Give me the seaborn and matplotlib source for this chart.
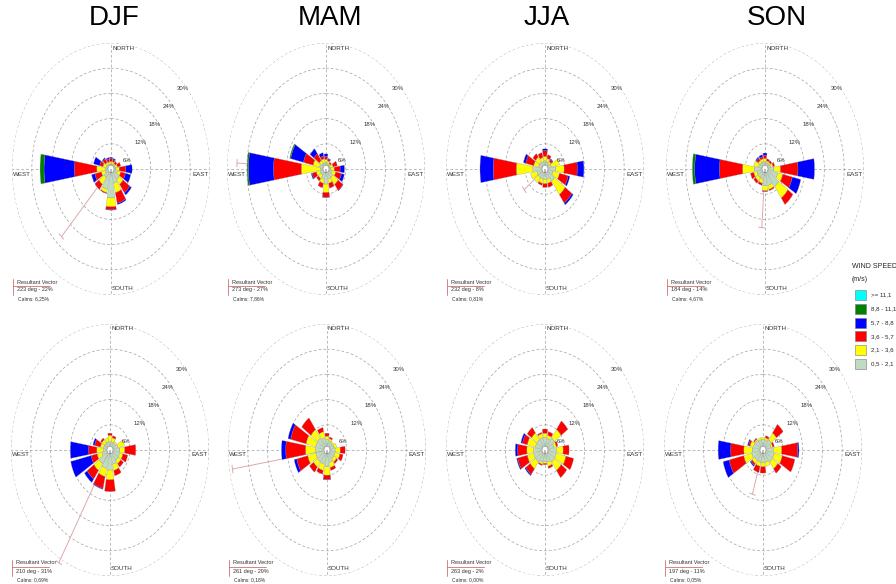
import numpy as np
import matplotlib
matplotlib.use("Agg")
import matplotlib.pyplot as plt
from matplotlib.patches import Rectangle
import seaborn as sns

# ---------------------------------------------------------------------------
# Wind rose data: frequency (%) per direction sector for each speed class
# sector order: N, NNE, NE, ENE, E, ESE, SE, SSE, S, SSW, SW, WSW, W, WNW, NW, NNW
# ---------------------------------------------------------------------------
directions = ["N", "NNE", "NE", "ENE", "E", "ESE", "SE", "SSE",
              "S", "SSW", "SW", "WSW", "W", "WNW", "NW", "NNW"]
seasons = ["DJF", "MAM", "JJA", "SON"]
speed_classes = ["0,5 - 2,1", "2,1 - 3,6", "3,6 - 5,7", "5,7 - 8,8", "8,8 - 11,1", ">= 11,1"]
speed_colors = ["#c0dcc0", "#ffff00", "#ff0000", "#0000ff", "#008000", "#00ffff"]

# upper row
djf1_c1 = [1.2, 1.2, 1.2, 1.3, 1.5, 2.0, 3.0, 3.5, 6.9, 5.0, 2.5, 1.8, 1.8, 1.5, 1.3, 1.2]
djf1_c2 = [0.6, 0.6, 0.4, 0.7, 1.0, 1.0, 1.5, 2.3, 2.1, 0.8, 2.0, 1.2, 2.5, 1.0, 0.7, 0.6]
djf1_c3 = [0.7, 0.5, 0.6, 1.0, 2.0, 1.5, 2.5, 2.6, 0.7, 0.2, 1.5, 2.0, 6.8, 1.0, 1.0, 0.7]
djf1_c4 = [0.3, 0.3, 0.0, 0.0, 1.9, 1.6, 0.6, 0.3, 0.1, 0.0, 0.0, 1.0, 9.2, 1.9, 0.3, 0.3]
djf1_c5 = [0.0, 0.0, 0.0, 0.0, 0.0, 0.0, 0.0, 0.0, 0.0, 0.0, 0.0, 0.0, 1.2, 0.0, 0.0, 0.0]

mam1_c1 = [1.5, 1.3, 1.2, 1.3, 1.5, 1.8, 2.5, 2.5, 3.6, 2.5, 1.8, 1.8, 1.7, 2.0, 1.5, 1.5]
mam1_c2 = [0.8, 0.7, 0.4, 0.9, 1.0, 1.2, 2.0, 1.0, 2.0, 1.0, 1.0, 1.2, 5.8, 2.0, 1.0, 1.0]
mam1_c3 = [0.7, 0.4, 0.4, 1.3, 1.8, 1.8, 1.8, 1.2, 1.1, 1.1, 0.7, 1.3, 8.4, 3.0, 2.0, 0.7]
mam1_c4 = [0.6, 0.2, 0.0, 0.0, 1.3, 0.9, 0.1, 0.0, 0.1, 0.0, 0.0, 0.3, 7.6, 4.0, 1.4, 0.8]
mam1_c5 = [0.0, 0.0, 0.0, 0.0, 0.0, 0.0, 0.0, 0.0, 0.0, 0.0, 0.0, 0.0, 0.4, 0.3, 0.0, 0.0]

jja1_c1 = [2.0, 1.8, 1.5, 2.0, 3.3, 2.5, 3.5, 2.5, 2.5, 2.5, 2.5, 2.5, 3.7, 2.0, 2.0, 1.8]
jja1_c2 = [1.0, 0.8, 0.7, 2.5, 2.5, 2.0, 4.0, 1.0, 1.0, 1.0, 1.5, 2.0, 5.0, 1.5, 1.5, 1.0]
jja1_c3 = [1.4, 0.9, 0.6, 0.0, 4.0, 2.7, 2.5, 1.0, 0.9, 0.5, 0.0, 0.0, 7.0, 2.5, 1.0, 1.2]
jja1_c4 = [0.4, 0.0, 0.2, 0.0, 2.0, 0.5, 0.5, 0.0, 0.0, 0.0, 0.0, 0.0, 4.0, 0.7, 0.0, 0.0]
jja1_c5 = [0.0, 0.0, 0.0, 0.0, 0.0, 0.0, 0.0, 0.0, 0.0, 0.0, 0.0, 0.0, 0.0, 0.0, 0.0, 0.0]

son1_c1 = [1.8, 1.5, 1.5, 1.8, 2.7, 4.0, 5.1, 4.0, 4.0, 2.5, 2.5, 2.5, 3.3, 2.0, 1.8, 1.8]
son1_c2 = [0.7, 0.5, 0.5, 0.7, 2.0, 1.5, 3.4, 1.0, 1.2, 1.0, 1.0, 1.0, 3.5, 1.5, 0.7, 0.7]
son1_c3 = [0.8, 0.5, 0.5, 0.5, 5.3, 3.0, 1.9, 0.3, 0.2, 0.5, 0.7, 1.0, 7.0, 0.0, 0.7, 0.5]
son1_c4 = [0.5, 0.0, 0.0, 0.0, 5.0, 2.6, 0.0, 0.0, 0.0, 0.0, 0.0, 0.0, 7.5, 0.0, 0.3, 0.5]
son1_c5 = [0.0, 0.0, 0.0, 0.0, 0.0, 0.0, 0.0, 0.0, 0.0, 0.0, 0.0, 0.0, 0.7, 0.0, 0.0, 0.0]

# lower row
djf2_c1 = [2.0, 2.0, 2.0, 2.5, 3.0, 3.0, 3.0, 3.5, 4.8, 4.5, 4.0, 2.5, 2.0, 2.0, 2.0, 2.0]
djf2_c2 = [1.5, 1.0, 0.5, 2.0, 1.5, 1.0, 1.0, 1.5, 2.3, 2.0, 2.0, 1.5, 2.0, 1.0, 1.0, 1.0]
djf2_c3 = [0.5, 0.5, 0.0, 0.0, 3.3, 1.5, 1.0, 1.3, 2.8, 2.9, 2.5, 1.9, 2.5, 1.8, 0.5, 0.0]
djf2_c4 = [0.0, 0.0, 0.0, 0.0, 0.0, 0.0, 0.0, 0.0, 0.0, 0.2, 1.0, 6.3, 5.5, 0.5, 0.0, 0.0]
djf2_c5 = [0.0, 0.0, 0.0, 0.0, 0.0, 0.0, 0.0, 0.0, 0.0, 0.0, 0.0, 0.0, 0.0, 0.0, 0.0, 0.0]

mam2_c1 = [2.5, 2.3, 2.0, 2.2, 2.5, 2.5, 2.5, 3.0, 4.0, 3.5, 3.5, 3.5, 3.5, 3.5, 3.5, 3.0]
mam2_c2 = [0.8, 0.5, 0.5, 0.8, 1.5, 1.5, 1.0, 1.3, 2.0, 1.5, 1.5, 2.5, 3.0, 3.0, 2.5, 1.5]
mam2_c3 = [0.7, 0.4, 0.0, 0.0, 1.5, 1.0, 0.5, 0.7, 1.0, 0.9, 1.5, 3.4, 6.0, 4.8, 3.4, 1.0]
mam2_c4 = [0.0, 0.0, 0.0, 0.0, 0.0, 0.0, 0.0, 0.0, 0.1, 0.0, 0.0, 0.8, 1.3, 0.8, 0.0, 0.0]
mam2_c5 = [0.0, 0.0, 0.0, 0.0, 0.0, 0.0, 0.0, 0.0, 0.0, 0.0, 0.0, 0.0, 0.0, 0.0, 0.0, 0.0]

jja2_c1 = [3.0, 2.8, 3.5, 2.8, 3.5, 3.5, 3.5, 3.0, 2.8, 3.0, 3.5, 3.5, 3.5, 3.0, 3.0, 3.0]
jja2_c2 = [1.0, 0.8, 2.5, 0.7, 2.0, 3.0, 2.5, 1.0, 0.4, 0.5, 2.0, 2.0, 2.0, 2.5, 2.0, 1.0]
jja2_c3 = [1.0, 0.9, 2.5, 0.5, 1.8, 2.4, 2.1, 0.5, 0.3, 0.3, 1.7, 3.0, 2.8, 1.5, 1.6, 0.3]
jja2_c4 = [0.0, 0.0, 0.0, 0.0, 0.0, 0.0, 0.0, 0.0, 0.0, 0.0, 0.3, 0.3, 0.7, 0.5, 0.0, 0.0]
jja2_c5 = [0.0, 0.0, 0.0, 0.0, 0.0, 0.0, 0.0, 0.0, 0.0, 0.0, 0.0, 0.0, 0.0, 0.0, 0.0, 0.0]

son2_c1 = [2.5, 2.5, 3.0, 2.5, 3.2, 3.5, 3.5, 3.0, 3.0, 3.0, 3.0, 3.5, 3.3, 3.0, 2.8, 2.5]
son2_c2 = [0.5, 0.5, 2.0, 0.5, 2.5, 2.5, 2.0, 1.0, 1.0, 1.0, 1.0, 2.5, 2.5, 1.0, 0.4, 0.5]
son2_c3 = [0.0, 0.5, 2.5, 0.5, 4.8, 3.9, 1.3, 0.0, 1.5, 1.5, 0.5, 4.5, 4.0, 0.5, 0.3, 0.0]
son2_c4 = [0.0, 0.0, 0.0, 0.0, 0.4, 0.0, 0.0, 0.0, 0.0, 0.0, 0.3, 1.9, 3.8, 0.3, 0.0, 0.0]
son2_c5 = [0.0, 0.0, 0.0, 0.0, 0.0, 0.0, 0.0, 0.0, 0.0, 0.0, 0.0, 0.0, 0.0, 0.0, 0.0, 0.0]

# resultant vector (direction in degrees, length in %) and calms
vector_deg = [223, 273, 232, 184, 210, 261, 263, 197]
vector_pct = [22, 27, 8, 14, 31, 29, 2, 11]
calms_text = ["6,25%", "7,86%", "0,81%", "4,67%", "0,69%", "0,18%", "0,00%", "0,05%"]

ring_values = [6, 12, 18, 24, 30]
ring_labels = ["6%", "12%", "18%", "24%", "30%"]

panels = [
    [djf1_c1, djf1_c2, djf1_c3, djf1_c4, djf1_c5],
    [mam1_c1, mam1_c2, mam1_c3, mam1_c4, mam1_c5],
    [jja1_c1, jja1_c2, jja1_c3, jja1_c4, jja1_c5],
    [son1_c1, son1_c2, son1_c3, son1_c4, son1_c5],
    [djf2_c1, djf2_c2, djf2_c3, djf2_c4, djf2_c5],
    [mam2_c1, mam2_c2, mam2_c3, mam2_c4, mam2_c5],
    [jja2_c1, jja2_c2, jja2_c3, jja2_c4, jja2_c5],
    [son2_c1, son2_c2, son2_c3, son2_c4, son2_c5],
]

# ---------------------------------------------------------------------------
sns.set_theme(style="white")
plt.rcParams["font.family"] = ["Liberation Sans Narrow", "Liberation Sans", "DejaVu Sans"]
palette = sns.color_palette(speed_colors)

W, H = 896, 584
fig = plt.figure(figsize=(W / 100, H / 100), dpi=100)
fig.patch.set_facecolor("white")

RX, RY = 99, 126
centers = [(111, 169), (326, 169), (545, 169), (765, 169),
           (110, 450), (327, 450), (545, 450), (763, 450)]
title_x = [114, 330, 547, 777]

grid_kw = dict(color="#a0a0a0", lw=0.5, dashes=(4, 3), zorder=1)
vec_color = "#dcaaaa"
theta_sec = np.deg2rad(np.arange(16) * 22.5)
bar_w = np.deg2rad(19.0)


def fx(x):
    return x / W


def fy(y):
    return 1 - y / H


for i, (cx, cy) in enumerate(centers):
    ax = fig.add_axes([fx(cx - RX), fy(cy + RY), 2 * RX / W, 2 * RY / H],
                      projection="polar")
    ax.set_aspect("auto")
    ax.set_theta_zero_location("N")
    ax.set_theta_direction(-1)
    ax.set_ylim(0, 30)
    ax.set_axis_off()

    # dashed rings and compass axes
    tt = np.linspace(0, 2 * np.pi, 361)
    for v in ring_values:
        ax.plot(tt, np.full_like(tt, v), **grid_kw)
    for a in (0, 90, 180, 270):
        ax.plot([np.deg2rad(a)] * 2, [0, 30], **grid_kw)

    # resultant vector (under the bars)
    th = np.deg2rad(vector_deg[i])
    r = vector_pct[i]
    ax.plot([th, th], [0, r], color=vec_color, lw=0.7, zorder=2, clip_on=False)
    h = 0.9
    d = np.arctan2(h, r)
    R = np.hypot(r, h)
    ax.plot([th - d, th + d], [R, R], color=vec_color, lw=0.7, zorder=2, clip_on=False)

    # stacked speed classes
    bottom = np.zeros(16)
    for k, vals in enumerate(panels[i]):
        vals = np.asarray(vals, dtype=float)
        m = vals > 0
        if m.any():
            ax.bar(theta_sec[m], vals[m], width=bar_w, bottom=bottom[m],
                   color=palette[k], edgecolor="#8a8a8a", linewidth=0.2,
                   zorder=3)
        bottom += vals

    # calm circle
    ax.bar(0, 0.9, width=2 * np.pi, bottom=0, color="white",
           edgecolor="#888888", linewidth=0.4, zorder=4)

    # ring labels
    for v, lab in zip(ring_values, ring_labels):
        ax.annotate(lab, xy=(np.deg2rad(45), v), xytext=(2, -9),
                    textcoords="offset pixels", fontsize=4.3, color="#333333",
                    ha="center", va="center", zorder=5)

    # compass labels
    lab_kw = dict(fontsize=4.5, color="#333333", va="center")
    fig.text(fx(cx + 1), fy(cy - RY + 5), "NORTH", ha="left", **lab_kw)
    fig.text(fx(cx + 1), fy(cy + RY - 7), "SOUTH", ha="left", **lab_kw)
    fig.text(fx(cx - RX + 1), fy(cy + 5), "WEST", ha="left", **lab_kw)
    fig.text(fx(cx + RX - 1), fy(cy + 5), "EAST", ha="right", **lab_kw)

    # resultant vector key
    kx, ky = cx - 98, cy + 113
    fig.add_artist(plt.Line2D([fx(kx), fx(kx + 37)], [fy(ky + 4), fy(ky + 4)],
                              color="#d07070", lw=0.6, transform=fig.transFigure))
    fig.add_artist(plt.Line2D([fx(kx), fx(kx)], [fy(ky - 3), fy(ky + 13)],
                              color="#d07070", lw=0.6, transform=fig.transFigure))
    txt_kw = dict(fontsize=4.0, color="#333333", ha="left", va="center")
    fig.text(fx(kx + 4), fy(ky), "Resultant Vector", **txt_kw)
    fig.text(fx(kx + 4), fy(ky + 8), f"{vector_deg[i]} deg - {vector_pct[i]}%", **txt_kw)
    fig.text(fx(kx + 5), fy(ky + 17), f"Calms: {calms_text[i]}", fontsize=3.6,
             color="#333333", ha="left", va="center")

    if i < 4:
        fig.text(fx(title_x[i]), fy(18), seasons[i], fontsize=20,
                 ha="center", va="center", color="black")

# speed legend
fig.text(fx(852), fy(267), "WIND SPEED", fontsize=5.0, ha="left", va="center")
fig.text(fx(852), fy(280), "(m/s)", fontsize=5.0, ha="left", va="center")
for j, k in enumerate(range(5, -1, -1)):
    top = 290 + 13.8 * j
    fig.add_artist(Rectangle((fx(855), fy(top + 10)), 11 / W, 10 / H,
                             facecolor=palette[k], edgecolor="#777777",
                             linewidth=0.4, transform=fig.transFigure))
    fig.text(fx(871), fy(top + 5), speed_classes[k], fontsize=4.4,
             ha="left", va="center")

fig.savefig("out.png", dpi=100, facecolor="white")
